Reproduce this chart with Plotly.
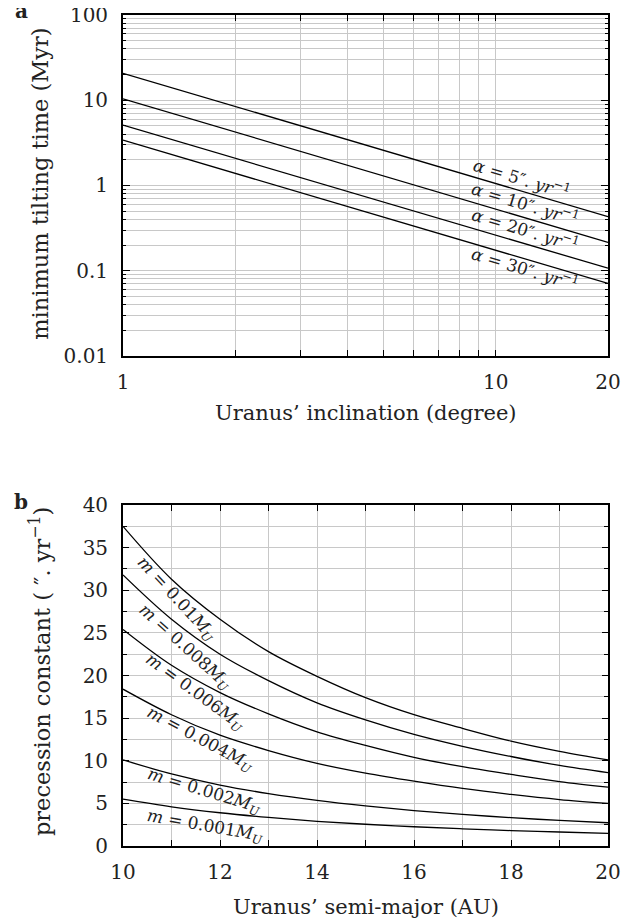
import plotly.graph_objects as go

# ---- panel a data ----
incl = [1, 2, 5, 10, 20]
t_a5 = [20.7, 8.46, 2.59, 1.06, 0.43]
t_a10 = [10.4, 4.25, 1.30, 0.53, 0.215]
t_a20 = [5.1, 2.08, 0.64, 0.26, 0.107]
t_a30 = [3.4, 1.39, 0.43, 0.175, 0.071]
labels_a = ["<i>α</i> = 5″. <i>yr</i><sup>−1</sup>",
            "<i>α</i> = 10″. <i>yr</i><sup>−1</sup>",
            "<i>α</i> = 20″. <i>yr</i><sup>−1</sup>",
            "<i>α</i> = 30″. <i>yr</i><sup>−1</sup>"]

# ---- panel b data ----
semi = [10, 11, 12, 13, 14, 15, 16, 17, 18, 19, 20]
p_m010 = [37.5, 31.3, 26.6, 22.8, 19.9, 17.4, 15.4, 13.8, 12.3, 11.1, 10.1]
p_m008 = [31.8, 26.6, 22.5, 19.4, 16.8, 14.8, 13.1, 11.7, 10.5, 9.45, 8.6]
p_m006 = [25.4, 21.2, 18.0, 15.5, 13.4, 11.8, 10.4, 9.3, 8.4, 7.55, 6.9]
p_m004 = [18.4, 15.4, 13.0, 11.2, 9.7, 8.55, 7.6, 6.75, 6.05, 5.45, 5.0]
p_m002 = [10.1, 8.45, 7.15, 6.15, 5.35, 4.7, 4.15, 3.7, 3.33, 3.0, 2.73]
p_m001 = [5.5, 4.6, 3.9, 3.35, 2.9, 2.55, 2.26, 2.02, 1.81, 1.64, 1.48]
labels_b = ["<i>m</i> = 0.01<i>M<sub>U</sub></i>",
            "<i>m</i> = 0.008<i>M<sub>U</sub></i>",
            "<i>m</i> = 0.006<i>M<sub>U</sub></i>",
            "<i>m</i> = 0.004<i>M<sub>U</sub></i>",
            "<i>m</i> = 0.002<i>M<sub>U</sub></i>",
            "<i>m</i> = 0.001<i>M<sub>U</sub></i>"]

x_ticks_a = [1, 2, 3, 4, 5, 6, 7, 8, 9, 10, 20]
x_text_a = ["1", "", "", "", "", "", "", "", "", "10", "20"]
y_ticks_a = [0.01, 0.1, 1, 10, 100]
y_text_a = ["0.01", "0.1", "1", "10", "100"]

FONT = "DejaVu Serif"
GRID = "#c8c8c8"
TXT = "#222"
fig = go.Figure()

for ys in [t_a5, t_a10, t_a20, t_a30]:
    fig.add_trace(go.Scatter(x=incl, y=ys, mode="lines", xaxis="x", yaxis="y",
                             line=dict(color="black", width=1.3), showlegend=False))
for ys in [p_m010, p_m008, p_m006, p_m004, p_m002, p_m001]:
    fig.add_trace(go.Scatter(x=semi, y=ys, mode="lines", xaxis="x2", yaxis="y2",
                             line=dict(color="black", width=1.3, shape="spline"),
                             showlegend=False))

common = dict(showline=True, linecolor="black", linewidth=1.8, mirror="allticks",
              ticks="inside", tickcolor="black", showgrid=True, gridcolor=GRID,
              gridwidth=1, zeroline=False, automargin=False,
              ticklabeloverflow="allow",
              tickfont=dict(family=FONT, size=20, color=TXT))

# the page body adds an ~8px offset; margins compensate for it
fig.update_layout(
    width=641, height=923,
    margin=dict(l=115, r=41, t=7, b=85),
    paper_bgcolor="white", plot_bgcolor="white",
    xaxis=dict(type="log", range=[0, 1.30103], domain=[0, 1], anchor="y",
               tickmode="array", tickvals=x_ticks_a, ticktext=x_text_a,
               ticklen=6, ticklabelstandoff=7, **common),
    yaxis=dict(type="log", range=[-2, 2], domain=[0.5897, 1], anchor="x",
               tickmode="array", tickvals=y_ticks_a, ticktext=y_text_a,
               ticklen=7, ticklabelstandoff=9,
               minor=dict(dtick="D1", ticks="inside", ticklen=3, tickcolor="black",
                          showgrid=True, gridcolor=GRID, gridwidth=1),
               **common),
    xaxis2=dict(range=[10, 20], domain=[0, 1], anchor="y2", dtick=2, tick0=10,
                ticklen=6, ticklabelstandoff=7,
                minor=dict(dtick=1, ticks="inside", ticklen=6, tickcolor="black",
                           showgrid=True, gridcolor=GRID, gridwidth=1),
                **common),
    yaxis2=dict(range=[0, 40], domain=[0, 0.4103], anchor="x2", dtick=5, tick0=0,
                ticklen=6, ticklabelstandoff=9,
                minor=dict(dtick=2.5, ticks="inside", ticklen=4, tickcolor="black",
                           showgrid=True, gridcolor=GRID, gridwidth=1),
                **common),
)

ann = []
tf = dict(family=FONT, size=21, color=TXT)
tfy = dict(family=FONT, size=22.5, color=TXT)
C = dict(xref="paper", yref="paper", showarrow=False, xanchor="center", yanchor="middle")
ann.append(dict(text="Uranus’ inclination (degree)", x=0.5, y=0.521, font=tf, **C))
ann.append(dict(text="Uranus’ semi-major (AU)", x=0.5, y=-0.0734, font=tf, **C))
ann.append(dict(text="minimum tilting time (Myr)", x=-0.171, y=0.797, textangle=-90,
                font=tfy, **C))
ann.append(dict(text="precession constant ( ″. yr<sup>−1</sup>)", x=-0.171, y=0.2094,
                textangle=-90, font=tfy, **C))
ann.append(dict(text="<b>a</b>", x=-0.210, y=1.0048, font=dict(family=FONT, size=20, color=TXT), **C))
ann.append(dict(text="<b>b</b>", x=-0.210, y=0.414, font=dict(family=FONT, size=20, color=TXT), **C))

lf = dict(family=FONT, size=17, color=TXT)
pos_a = [(0.823, 0.804), (0.829, 0.774), (0.829, 0.742), (0.829, 0.696)]
for t, (px, py) in zip(labels_a, pos_a):
    ann.append(dict(text=t, x=px, y=py, textangle=17, font=lf, **C))
pos_b = [(0.111, 0.297, 47), (0.128, 0.239, 42), (0.148, 0.185, 36),
         (0.159, 0.128, 28), (0.167, 0.065, 17), (0.169, 0.023, 10)]
for t, (px, py, ang) in zip(labels_b, pos_b):
    ann.append(dict(text=t, x=px, y=py, textangle=ang, font=lf, **C))
fig.update_layout(annotations=ann)

fig.write_html("out.html")
